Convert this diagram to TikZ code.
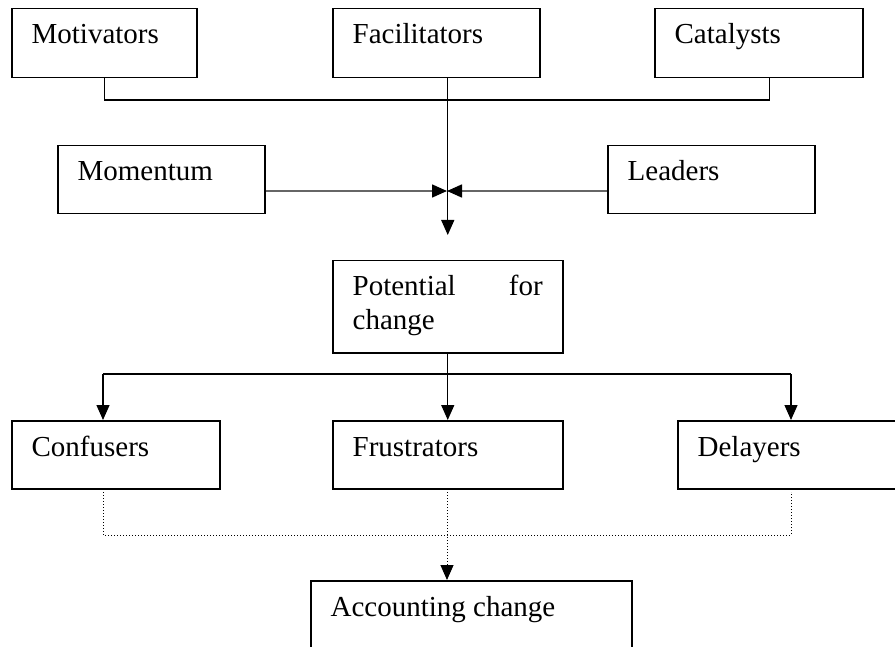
\documentclass[tikz,border=0pt]{standalone}
\usepackage{fontspec}
\setmainfont{Liberation Serif}
\usetikzlibrary{arrows.meta}

\begin{document}
\begin{tikzpicture}[x=1pt,y=-1pt,font=\fontsize{29}{34}\selectfont,line width=1.3pt,
  box/.style={draw,line width=1.5pt,inner sep=0pt,anchor=north west},
  txt/.style={label={[anchor=base west,inner sep=0pt,xshift=20pt,yshift=-36pt]north west:#1}},
  arr/.style={-{Triangle[length=15pt,width=13pt,color=black]}},
  feed/.style={arr,draw=black!60,line width=1.6pt},
  dots/.style={dotted,line width=1pt}]
\clip (0,0) rectangle (895,647);
% top row
\node[box,minimum width=185pt,minimum height=69pt,txt=Motivators] (mot) at (11,8) {};
\node[box,minimum width=207pt,minimum height=69pt,txt=Facilitators] (fac) at (332,8) {};
\node[box,minimum width=208pt,minimum height=69pt,txt=Catalysts] (cat) at (654,8) {};
\node[box,minimum width=207pt,minimum height=68pt,txt=Momentum] (mom) at (57,145) {};
\node[box,minimum width=207pt,minimum height=68pt,txt=Leaders] (lead) at (607,145) {};
% middle
\node[box,minimum width=230pt,minimum height=92pt,
  label={[anchor=base west,inner sep=0pt,xshift=20pt,yshift=-36pt,text width=190pt,align=left]north west:Potential\hfill for\\change}] (pot) at (332,260) {};
% bottom row
\node[box,minimum width=208pt,minimum height=68pt,txt=Confusers] (conf) at (11,420) {};
\node[box,minimum width=230pt,minimum height=68pt,txt=Frustrators] (frus) at (332,420) {};
\node[box,minimum width=240pt,minimum height=68pt,txt=Delayers] (del) at (677,420) {};
\node[box,minimum width=321pt,minimum height=100pt,txt=Accounting change] (acc) at (310,580) {};
% junctions
\coordinate (top) at (447,100);
\coordinate (hub) at (447,191);
\coordinate (sl) at (103,374);
\coordinate (sr) at (791,374);
\coordinate (dl) at (103,492);
\coordinate (dm) at (447,492);
\coordinate (dr) at (791,492);
\coordinate (join) at (447,535);
\draw (mot.south) |- (top) -| ([xshift=11pt]cat.south);
\draw[arr] ([xshift=11.5pt]fac.south) -- ([yshift=25pt]pot.north);
\draw[feed] (mom.east |- hub) -- (hub);
\draw[feed] (lead.west |- hub) -- (hub);
\draw[arr] (pot.south) -- (frus.north);
\draw (sl) -- (sr);
\draw[arr] (sl) -- (sl |- conf.north);
\draw[arr] (sr) -- (sr |- del.north);
\draw[dots] (dl) |- (join) -| (dr);
\draw[dots,arr] (dm) -- (dm |- acc.north);
\end{tikzpicture}
\end{document}
